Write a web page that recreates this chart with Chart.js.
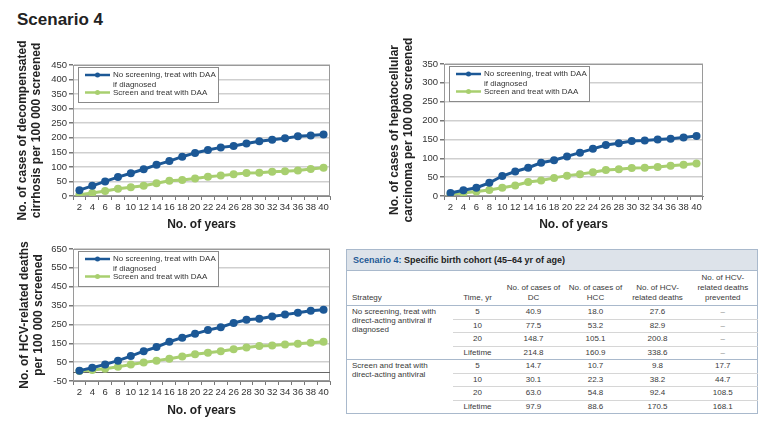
<!DOCTYPE html>
<html>
<head>
<meta charset="utf-8">
<script src="https://cdn.jsdelivr.net/npm/chart.js@4.4.1/dist/chart.umd.min.js"></script>
<style>
body { margin: 0; background: #fff; font-family: "Liberation Sans", Arial, sans-serif; }
#page { position: relative; width: 768px; height: 436px; overflow: hidden; }
h1 { position: absolute; left: 17px; top: 10px; margin: 0; font-size: 17px; line-height: 20px; color: #222; }
canvas { position: absolute; }
#c1 { left: 0; top: 36px; }
#c2 { left: 370px; top: 36px; }
#c3 { left: 0; top: 222px; }
table { position: absolute; left: 346px; top: 249px; width: 411px; border-collapse: collapse; table-layout: fixed;
        font-size: 8px; color: #3a3a3a; border: 1.5px solid #a9b9cc; }
td, th { padding: 0; font-weight: normal; text-align: center; }
.cap { background: #dde3ea; height: 20px; text-align: left; padding-left: 6px; font-size: 9px; font-weight: bold; color: #222; border-bottom: 1px solid #a9b9cc; }
.cap span { color: #1f5a96; }
.hd th { height: 32px; vertical-align: bottom; line-height: 10px; padding-bottom: 2px; border-bottom: 1px solid #a9b9cc; }
.hd th.strat { text-align: left; padding-left: 5px; }
td { height: 12.5px; line-height: 12px; border-bottom: 1px solid #d6d6d6; }
td.strat { text-align: left; vertical-align: top; padding-left: 5px; padding-top: 1px; line-height: 9px; border-bottom: 1px solid #a9b9cc; }
tr.last td { border-bottom: 1px solid #a9b9cc; }
td.dash { color: #888; }
</style>
</head>
<body>
<div id="page">
  <h1>Scenario 4</h1>
  <canvas id="c1" width="340" height="200"></canvas>
  <canvas id="c2" width="343" height="200"></canvas>
  <canvas id="c3" width="340" height="200"></canvas>
  <table id="tbl"></table>
</div>
<script>
// x axis: years
const years = ['2', '4', '6', '8', '10', '12', '14', '16', '18', '20', '22', '24', '26', '28', '30', '32', '34', '36', '38', '40'];
const legendLines = [['No screening, treat with DAA', 'if diagnosed'], ['Screen and treat with DAA']];

// decompensated cirrhosis
const dcNoScreen = [20, 35, 50, 65, 78, 92, 107, 120, 135, 148, 158, 167, 172, 180, 188, 193, 198, 205, 208, 211];
const dcScreen   = [4, 10, 17, 25, 30, 35, 44, 52, 55, 60, 66, 70, 75, 79, 80, 83, 85, 88, 93, 97];

// hepatocellular carcinoma
const hccNoScreen = [8, 15, 22, 35, 53, 65, 75, 88, 95, 105, 115, 125, 135, 140, 146, 147, 150, 152, 155, 159];
const hccScreen   = [5, 8, 12, 16, 22, 28, 37, 41, 48, 54, 58, 63, 69, 71, 74, 75, 77, 80, 83, 86];

// HCV-related deaths
const deathsNoScreen = [5, 20, 38, 58, 82, 108, 130, 158, 180, 200, 220, 235, 258, 275, 280, 292, 302, 312, 322, 328];
const deathsScreen   = [3, 8, 15, 25, 38, 48, 58, 68, 80, 92, 100, 108, 118, 128, 135, 138, 143, 148, 153, 158];
const deathsTicks = [-50, 50, 150, 250, 350, 450, 550, 650];

// table
const tblStrategy = [['No screening, treat with', 'direct-acting antiviral if', 'diagnosed'], ['Screen and treat with', 'direct-acting antiviral']];
const tblTime = ['5', '10', '20', 'Lifetime'];
const tblDC = [['40.9', '77.5', '148.7', '214.8'], ['14.7', '30.1', '63.0', '97.9']];
const tblHCC = [['18.0', '53.2', '105.1', '160.9'], ['10.7', '22.3', '54.8', '88.6']];
const tblDeaths = [['27.6', '82.9', '200.8', '338.6'], ['9.8', '38.2', '92.4', '170.5']];
const tblPrevented = [['–', '–', '–', '–'], ['17.7', '44.7', '108.5', '168.1']];

const blue = '#1c5896';
const green = '#a8cf6f';
const FONT = '"Liberation Sans", Arial, sans-serif';

// legend box drawn inside the plot, top left
const boxLegend = {
    id: 'boxLegend',
    afterDatasetsDraw(chart) {
        const { ctx, chartArea } = chart;
        const x = chartArea.left + 5, y = chartArea.top + 2;
        ctx.save();
        ctx.fillStyle = '#fff';
        ctx.fillRect(x, y, 140, 35);
        ctx.strokeStyle = '#8a8a8a';
        ctx.lineWidth = 1;
        ctx.strokeRect(x + 0.5, y + 0.5, 140, 35);
        ctx.font = '8px ' + FONT;
        ctx.textBaseline = 'middle';
        let ty = y + 8;
        chart.data.datasets.forEach(ds => {
            ctx.strokeStyle = ds.borderColor;
            ctx.lineWidth = 2.5;
            ctx.beginPath();
            ctx.moveTo(x + 7, ty);
            ctx.lineTo(x + 32, ty);
            ctx.stroke();
            ctx.fillStyle = ds.borderColor;
            ctx.beginPath();
            ctx.arc(x + 19.5, ty, 2.5, 0, Math.PI * 2);
            ctx.fill();
            ctx.fillStyle = '#333';
            ds.legendLines.forEach((l, i) => ctx.fillText(l, x + 35, ty + i * 9.5));
            ty += ds.legendLines.length * 9.5 - 1.5;
        });
        ctx.restore();
    }
};

// grey frame around the plot, plus optional zero line
const frame = {
    id: 'frame',
    beforeDatasetsDraw(chart, args, opts) {
        const { ctx, chartArea: a } = chart;
        ctx.save();
        ctx.strokeStyle = '#9a9a9a';
        ctx.lineWidth = 1;
        ctx.strokeRect(a.left + 0.5, a.top + 0.5, a.right - a.left - 1, a.bottom - a.top - 1);
        if (opts.zero) {
            const y0 = Math.round(chart.scales.y.getPixelForValue(0)) + 0.5;
            ctx.strokeStyle = '#666';
            ctx.beginPath();
            ctx.moveTo(a.left, y0);
            ctx.lineTo(a.right, y0);
            ctx.stroke();
        }
        ctx.restore();
    }
};

function makeChart(id, a, b, yTitle, yScale, pad, yWidth, xHeight, titlePad, zero) {
    return new Chart(document.getElementById(id), {
        type: 'line',
        data: {
            labels: years,
            datasets: [
                { label: legendLines[0].join(' '), legendLines: legendLines[0], data: a, borderColor: blue, backgroundColor: blue,
                  pointBackgroundColor: blue, borderWidth: 3, pointRadius: 4, pointBorderWidth: 0 },
                { label: legendLines[1].join(' '), legendLines: legendLines[1], data: b, borderColor: green, backgroundColor: green,
                  pointBackgroundColor: green, borderWidth: 3, pointRadius: 4, pointBorderWidth: 0 }
            ]
        },
        options: {
            responsive: false,
            animation: false,
            layout: { padding: pad },
            plugins: {
                legend: { display: false },
                tooltip: { enabled: false },
                frame: { zero: zero }
            },
            scales: {
                x: {
                    offset: true,
                    grid: { drawOnChartArea: false, offset: true, tickLength: 4, tickColor: '#777' },
                    border: { color: '#888' },
                    ticks: { font: { size: 9.5, family: FONT }, color: '#333', padding: 2, maxRotation: 0, autoSkip: false },
                    title: { display: true, text: 'No. of years', font: { size: 12, weight: 'bold', family: FONT }, color: '#222', padding: { top: 0, bottom: 4 } },
                    afterFit: s => { s.height = xHeight; }
                },
                y: Object.assign({
                    grid: { color: '#cfcfcf', lineWidth: 1.5, tickLength: 4, tickColor: '#777' },
                    border: { color: '#888' },
                    title: { display: true, text: yTitle, font: { size: 12, weight: 'bold', family: FONT }, color: '#222', padding: { top: titlePad, bottom: 0 } },
                    afterFit: s => { s.width = yWidth; }
                }, yScale)
            }
        },
        plugins: [frame, boxLegend]
    });
}

const tickFont = { font: { size: 9.5, family: FONT }, color: '#333', padding: 2 };

makeChart('c1', dcNoScreen, dcScreen,
    ['No. of cases of decompensated', 'cirrhosis per 100 000 screened'],
    { min: 0, max: 450, ticks: Object.assign({ stepSize: 50 }, tickFont) },
    { top: 29, right: 10, left: 0, bottom: 0 }, 73, 40, 15, false);

makeChart('c2', hccNoScreen, hccScreen,
    ['No. of cases of hepatocellular', 'carcinoma per 100 000 screened'],
    { min: 0, max: 350, ticks: Object.assign({ stepSize: 50 }, tickFont) },
    { top: 28, right: 10, left: 0, bottom: 0 }, 74, 40, 17, false);

makeChart('c3', deathsNoScreen, deathsScreen,
    ['No. of HCV-related deaths', 'per 100 000 screened'],
    { min: -50, max: 650, ticks: tickFont,
      afterBuildTicks: s => { s.ticks = deathsTicks.map(v => ({ value: v })); } },
    { top: 27, right: 10, left: 0, bottom: 0 }, 73, 41, 17, true);

// build the table
const tbl = document.getElementById('tbl');
let html = '<colgroup><col style="width:106px"><col style="width:50px"><col style="width:62px"><col style="width:62px"><col style="width:62px"><col style="width:69px"></colgroup>';
html += '<tr><th colspan="6" class="cap"><span>Scenario 4:</span> Specific birth cohort (45–64 yr of age)</th></tr>';
html += '<tr class="hd"><th class="strat">Strategy</th><th>Time, yr</th><th>No. of cases of<br>DC</th><th>No. of cases of<br>HCC</th><th>No. of HCV-<br>related deaths</th><th>No. of HCV-<br>related deaths<br>prevented</th></tr>';
for (let g = 0; g < 2; g++) {
    for (let r = 0; r < tblTime.length; r++) {
        html += '<tr' + (r === tblTime.length - 1 ? ' class="last"' : '') + '>';
        if (r === 0) html += '<td class="strat" rowspan="4">' + tblStrategy[g].join('<br>') + '</td>';
        html += '<td>' + tblTime[r] + '</td><td>' + tblDC[g][r] + '</td><td>' + tblHCC[g][r] + '</td><td>' + tblDeaths[g][r] + '</td>';
        html += '<td' + (tblPrevented[g][r] === '–' ? ' class="dash"' : '') + '>' + tblPrevented[g][r] + '</td></tr>';
    }
}
tbl.innerHTML = html;
</script>
</body>
</html>
